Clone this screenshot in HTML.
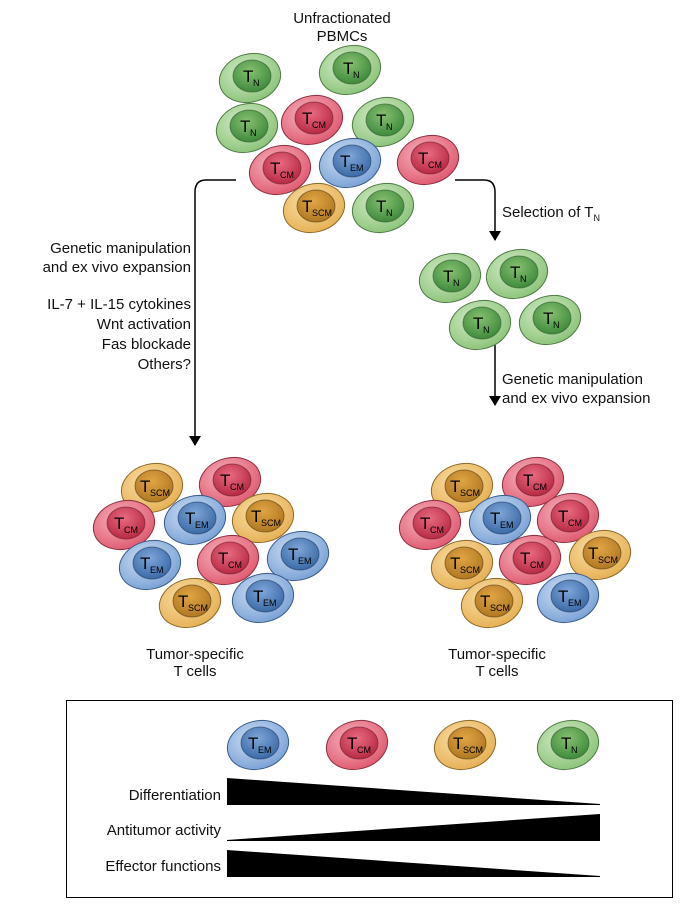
<!DOCTYPE html>
<html><head><meta charset="utf-8"><style>
html,body{margin:0;padding:0;background:#fff;}
svg{display:block;font-family:"Liberation Sans",Arial,sans-serif;}
</style></head><body>
<svg width="694" height="904" viewBox="0 0 694 904" xmlns="http://www.w3.org/2000/svg">
<defs>
<radialGradient id="oN" cx="45%" cy="35%" r="65%"><stop offset="0" stop-color="#d4ecc8"/><stop offset="1" stop-color="#8cc47a"/></radialGradient>
<radialGradient id="iN" cx="45%" cy="35%" r="65%"><stop offset="0" stop-color="#86c070"/><stop offset="1" stop-color="#3f8a3c"/></radialGradient>
<radialGradient id="oC" cx="45%" cy="35%" r="65%"><stop offset="0" stop-color="#f6b6c0"/><stop offset="1" stop-color="#e05a70"/></radialGradient>
<radialGradient id="iC" cx="45%" cy="35%" r="65%"><stop offset="0" stop-color="#e86a80"/><stop offset="1" stop-color="#b82a44"/></radialGradient>
<radialGradient id="oE" cx="45%" cy="35%" r="65%"><stop offset="0" stop-color="#cfe0f4"/><stop offset="1" stop-color="#7aa2d6"/></radialGradient>
<radialGradient id="iE" cx="45%" cy="35%" r="65%"><stop offset="0" stop-color="#7ea6d8"/><stop offset="1" stop-color="#3a6aa6"/></radialGradient>
<radialGradient id="oS" cx="45%" cy="35%" r="65%"><stop offset="0" stop-color="#fae0a8"/><stop offset="1" stop-color="#e6b054"/></radialGradient>
<radialGradient id="iS" cx="45%" cy="35%" r="65%"><stop offset="0" stop-color="#e0a444"/><stop offset="1" stop-color="#b07820"/></radialGradient>
<marker id="ar" markerWidth="10" markerHeight="12" refX="9" refY="6" orient="auto" markerUnits="userSpaceOnUse"><path d="M0,0 L10,6 L0,12 z" fill="#000"/></marker>
</defs>

<g font-size="15" fill="#111">
<text x="342" y="23" text-anchor="middle">Unfractionated</text>
<text x="342" y="41" text-anchor="middle">PBMCs</text>
<g text-anchor="end">
<text x="191" y="253">Genetic manipulation</text>
<text x="191" y="272">and ex vivo expansion</text>
<text x="191" y="309">IL-7 + IL-15 cytokines</text>
<text x="191" y="329">Wnt activation</text>
<text x="191" y="349">Fas blockade</text>
<text x="191" y="369">Others?</text>
</g>
<text x="502" y="217">Selection of T<tspan font-size="9" dy="4">N</tspan></text>
<text x="502" y="384">Genetic manipulation</text>
<text x="502" y="403">and ex vivo expansion</text>
<text x="195" y="659" text-anchor="middle">Tumor-specific</text>
<text x="195" y="676" text-anchor="middle">T cells</text>
<text x="497" y="659" text-anchor="middle">Tumor-specific</text>
<text x="497" y="676" text-anchor="middle">T cells</text>
</g>

<g fill="none" stroke="#000" stroke-width="1.5">
<path d="M236,180 H206 Q195,180 195,192 V445" marker-end="url(#ar)"/>
<path d="M455,180 H484 Q495,180 495,192 V240" marker-end="url(#ar)"/>
<path d="M495,345 V405" marker-end="url(#ar)"/>
</g>

<rect x="66.5" y="700.5" width="606" height="197" fill="none" stroke="#000" stroke-width="1"/>
<g font-size="15" fill="#111" text-anchor="end">
<text x="221" y="800">Differentiation</text>
<text x="221" y="835">Antitumor activity</text>
<text x="221" y="871">Effector functions</text>
</g>
<polygon points="227,778 600,804 600,805 227,805" fill="#000"/>
<polygon points="227,840 600,814 600,841 227,841" fill="#000"/>
<polygon points="227,850 600,876 600,877 227,877" fill="#000"/>

<g id="cells" stroke-width="1">
<!-- template function inlined -->
</g>
<g>
<!-- top group -->
<g transform="translate(250,78)"><ellipse rx="31" ry="24" transform="rotate(-15)" fill="url(#oN)" stroke="#4e7a44"/><ellipse cx="2" cy="-2" rx="19" ry="16" fill="url(#iN)" stroke="#2f5a2c" stroke-opacity=".6"/><text x="-7" y="4" font-size="17">T</text><text x="3" y="8" font-size="9">N</text></g>
<g transform="translate(350,70)"><ellipse rx="31" ry="24" transform="rotate(-15)" fill="url(#oN)" stroke="#4e7a44"/><ellipse cx="2" cy="-2" rx="19" ry="16" fill="url(#iN)" stroke="#2f5a2c" stroke-opacity=".6"/><text x="-7" y="4" font-size="17">T</text><text x="3" y="8" font-size="9">N</text></g>
<g transform="translate(247,128)"><ellipse rx="31" ry="24" transform="rotate(-15)" fill="url(#oN)" stroke="#4e7a44"/><ellipse cx="2" cy="-2" rx="19" ry="16" fill="url(#iN)" stroke="#2f5a2c" stroke-opacity=".6"/><text x="-7" y="4" font-size="17">T</text><text x="3" y="8" font-size="9">N</text></g>
<g transform="translate(312,120)"><ellipse rx="31" ry="24" transform="rotate(-15)" fill="url(#oC)" stroke="#8a3040"/><ellipse cx="2" cy="-2" rx="19" ry="16" fill="url(#iC)" stroke="#6a1a2a" stroke-opacity=".6"/><text x="-10" y="4" font-size="17">T</text><text x="0" y="8" font-size="9">CM</text></g>
<g transform="translate(383,122)"><ellipse rx="31" ry="24" transform="rotate(-15)" fill="url(#oN)" stroke="#4e7a44"/><ellipse cx="2" cy="-2" rx="19" ry="16" fill="url(#iN)" stroke="#2f5a2c" stroke-opacity=".6"/><text x="-7" y="4" font-size="17">T</text><text x="3" y="8" font-size="9">N</text></g>
<g transform="translate(280,170)"><ellipse rx="31" ry="24" transform="rotate(-15)" fill="url(#oC)" stroke="#8a3040"/><ellipse cx="2" cy="-2" rx="19" ry="16" fill="url(#iC)" stroke="#6a1a2a" stroke-opacity=".6"/><text x="-10" y="4" font-size="17">T</text><text x="0" y="8" font-size="9">CM</text></g>
<g transform="translate(350,163)"><ellipse rx="31" ry="24" transform="rotate(-15)" fill="url(#oE)" stroke="#3a5a88"/><ellipse cx="2" cy="-2" rx="19" ry="16" fill="url(#iE)" stroke="#203a66" stroke-opacity=".6"/><text x="-10" y="4" font-size="17">T</text><text x="0" y="8" font-size="9">EM</text></g>
<g transform="translate(428,160)"><ellipse rx="31" ry="24" transform="rotate(-15)" fill="url(#oC)" stroke="#8a3040"/><ellipse cx="2" cy="-2" rx="19" ry="16" fill="url(#iC)" stroke="#6a1a2a" stroke-opacity=".6"/><text x="-10" y="4" font-size="17">T</text><text x="0" y="8" font-size="9">CM</text></g>
<g transform="translate(314,208)"><ellipse rx="31" ry="24" transform="rotate(-15)" fill="url(#oS)" stroke="#8a6a2a"/><ellipse cx="2" cy="-2" rx="19" ry="16" fill="url(#iS)" stroke="#5a3a10" stroke-opacity=".6"/><text x="-12" y="4" font-size="17">T</text><text x="-2" y="8" font-size="9">SCM</text></g>
<g transform="translate(383,208)"><ellipse rx="31" ry="24" transform="rotate(-15)" fill="url(#oN)" stroke="#4e7a44"/><ellipse cx="2" cy="-2" rx="19" ry="16" fill="url(#iN)" stroke="#2f5a2c" stroke-opacity=".6"/><text x="-7" y="4" font-size="17">T</text><text x="3" y="8" font-size="9">N</text></g>

<!-- selected TN -->
<g transform="translate(450,278)"><ellipse rx="31" ry="24" transform="rotate(-15)" fill="url(#oN)" stroke="#4e7a44"/><ellipse cx="2" cy="-2" rx="19" ry="16" fill="url(#iN)" stroke="#2f5a2c" stroke-opacity=".6"/><text x="-7" y="4" font-size="17">T</text><text x="3" y="8" font-size="9">N</text></g>
<g transform="translate(517,274)"><ellipse rx="31" ry="24" transform="rotate(-15)" fill="url(#oN)" stroke="#4e7a44"/><ellipse cx="2" cy="-2" rx="19" ry="16" fill="url(#iN)" stroke="#2f5a2c" stroke-opacity=".6"/><text x="-7" y="4" font-size="17">T</text><text x="3" y="8" font-size="9">N</text></g>
<g transform="translate(480,325)"><ellipse rx="31" ry="24" transform="rotate(-15)" fill="url(#oN)" stroke="#4e7a44"/><ellipse cx="2" cy="-2" rx="19" ry="16" fill="url(#iN)" stroke="#2f5a2c" stroke-opacity=".6"/><text x="-7" y="4" font-size="17">T</text><text x="3" y="8" font-size="9">N</text></g>
<g transform="translate(550,320)"><ellipse rx="31" ry="24" transform="rotate(-15)" fill="url(#oN)" stroke="#4e7a44"/><ellipse cx="2" cy="-2" rx="19" ry="16" fill="url(#iN)" stroke="#2f5a2c" stroke-opacity=".6"/><text x="-7" y="4" font-size="17">T</text><text x="3" y="8" font-size="9">N</text></g>

<!-- left bottom -->
<g transform="translate(152,488)"><ellipse rx="31" ry="24" transform="rotate(-15)" fill="url(#oS)" stroke="#8a6a2a"/><ellipse cx="2" cy="-2" rx="19" ry="16" fill="url(#iS)" stroke="#5a3a10" stroke-opacity=".6"/><text x="-12" y="4" font-size="17">T</text><text x="-2" y="8" font-size="9">SCM</text></g>
<g transform="translate(230,482)"><ellipse rx="31" ry="24" transform="rotate(-15)" fill="url(#oC)" stroke="#8a3040"/><ellipse cx="2" cy="-2" rx="19" ry="16" fill="url(#iC)" stroke="#6a1a2a" stroke-opacity=".6"/><text x="-10" y="4" font-size="17">T</text><text x="0" y="8" font-size="9">CM</text></g>
<g transform="translate(124,525)"><ellipse rx="31" ry="24" transform="rotate(-15)" fill="url(#oC)" stroke="#8a3040"/><ellipse cx="2" cy="-2" rx="19" ry="16" fill="url(#iC)" stroke="#6a1a2a" stroke-opacity=".6"/><text x="-10" y="4" font-size="17">T</text><text x="0" y="8" font-size="9">CM</text></g>
<g transform="translate(195,520)"><ellipse rx="31" ry="24" transform="rotate(-15)" fill="url(#oE)" stroke="#3a5a88"/><ellipse cx="2" cy="-2" rx="19" ry="16" fill="url(#iE)" stroke="#203a66" stroke-opacity=".6"/><text x="-10" y="4" font-size="17">T</text><text x="0" y="8" font-size="9">EM</text></g>
<g transform="translate(263,518)"><ellipse rx="31" ry="24" transform="rotate(-15)" fill="url(#oS)" stroke="#8a6a2a"/><ellipse cx="2" cy="-2" rx="19" ry="16" fill="url(#iS)" stroke="#5a3a10" stroke-opacity=".6"/><text x="-12" y="4" font-size="17">T</text><text x="-2" y="8" font-size="9">SCM</text></g>
<g transform="translate(150,565)"><ellipse rx="31" ry="24" transform="rotate(-15)" fill="url(#oE)" stroke="#3a5a88"/><ellipse cx="2" cy="-2" rx="19" ry="16" fill="url(#iE)" stroke="#203a66" stroke-opacity=".6"/><text x="-10" y="4" font-size="17">T</text><text x="0" y="8" font-size="9">EM</text></g>
<g transform="translate(228,560)"><ellipse rx="31" ry="24" transform="rotate(-15)" fill="url(#oC)" stroke="#8a3040"/><ellipse cx="2" cy="-2" rx="19" ry="16" fill="url(#iC)" stroke="#6a1a2a" stroke-opacity=".6"/><text x="-10" y="4" font-size="17">T</text><text x="0" y="8" font-size="9">CM</text></g>
<g transform="translate(298,556)"><ellipse rx="31" ry="24" transform="rotate(-15)" fill="url(#oE)" stroke="#3a5a88"/><ellipse cx="2" cy="-2" rx="19" ry="16" fill="url(#iE)" stroke="#203a66" stroke-opacity=".6"/><text x="-10" y="4" font-size="17">T</text><text x="0" y="8" font-size="9">EM</text></g>
<g transform="translate(190,603)"><ellipse rx="31" ry="24" transform="rotate(-15)" fill="url(#oS)" stroke="#8a6a2a"/><ellipse cx="2" cy="-2" rx="19" ry="16" fill="url(#iS)" stroke="#5a3a10" stroke-opacity=".6"/><text x="-12" y="4" font-size="17">T</text><text x="-2" y="8" font-size="9">SCM</text></g>
<g transform="translate(263,598)"><ellipse rx="31" ry="24" transform="rotate(-15)" fill="url(#oE)" stroke="#3a5a88"/><ellipse cx="2" cy="-2" rx="19" ry="16" fill="url(#iE)" stroke="#203a66" stroke-opacity=".6"/><text x="-10" y="4" font-size="17">T</text><text x="0" y="8" font-size="9">EM</text></g>

<!-- right bottom -->
<g transform="translate(462,488)"><ellipse rx="31" ry="24" transform="rotate(-15)" fill="url(#oS)" stroke="#8a6a2a"/><ellipse cx="2" cy="-2" rx="19" ry="16" fill="url(#iS)" stroke="#5a3a10" stroke-opacity=".6"/><text x="-12" y="4" font-size="17">T</text><text x="-2" y="8" font-size="9">SCM</text></g>
<g transform="translate(533,482)"><ellipse rx="31" ry="24" transform="rotate(-15)" fill="url(#oC)" stroke="#8a3040"/><ellipse cx="2" cy="-2" rx="19" ry="16" fill="url(#iC)" stroke="#6a1a2a" stroke-opacity=".6"/><text x="-10" y="4" font-size="17">T</text><text x="0" y="8" font-size="9">CM</text></g>
<g transform="translate(430,525)"><ellipse rx="31" ry="24" transform="rotate(-15)" fill="url(#oC)" stroke="#8a3040"/><ellipse cx="2" cy="-2" rx="19" ry="16" fill="url(#iC)" stroke="#6a1a2a" stroke-opacity=".6"/><text x="-10" y="4" font-size="17">T</text><text x="0" y="8" font-size="9">CM</text></g>
<g transform="translate(500,520)"><ellipse rx="31" ry="24" transform="rotate(-15)" fill="url(#oE)" stroke="#3a5a88"/><ellipse cx="2" cy="-2" rx="19" ry="16" fill="url(#iE)" stroke="#203a66" stroke-opacity=".6"/><text x="-10" y="4" font-size="17">T</text><text x="0" y="8" font-size="9">EM</text></g>
<g transform="translate(568,518)"><ellipse rx="31" ry="24" transform="rotate(-15)" fill="url(#oC)" stroke="#8a3040"/><ellipse cx="2" cy="-2" rx="19" ry="16" fill="url(#iC)" stroke="#6a1a2a" stroke-opacity=".6"/><text x="-10" y="4" font-size="17">T</text><text x="0" y="8" font-size="9">CM</text></g>
<g transform="translate(462,565)"><ellipse rx="31" ry="24" transform="rotate(-15)" fill="url(#oS)" stroke="#8a6a2a"/><ellipse cx="2" cy="-2" rx="19" ry="16" fill="url(#iS)" stroke="#5a3a10" stroke-opacity=".6"/><text x="-12" y="4" font-size="17">T</text><text x="-2" y="8" font-size="9">SCM</text></g>
<g transform="translate(530,560)"><ellipse rx="31" ry="24" transform="rotate(-15)" fill="url(#oC)" stroke="#8a3040"/><ellipse cx="2" cy="-2" rx="19" ry="16" fill="url(#iC)" stroke="#6a1a2a" stroke-opacity=".6"/><text x="-10" y="4" font-size="17">T</text><text x="0" y="8" font-size="9">CM</text></g>
<g transform="translate(600,555)"><ellipse rx="31" ry="24" transform="rotate(-15)" fill="url(#oS)" stroke="#8a6a2a"/><ellipse cx="2" cy="-2" rx="19" ry="16" fill="url(#iS)" stroke="#5a3a10" stroke-opacity=".6"/><text x="-12" y="4" font-size="17">T</text><text x="-2" y="8" font-size="9">SCM</text></g>
<g transform="translate(492,603)"><ellipse rx="31" ry="24" transform="rotate(-15)" fill="url(#oS)" stroke="#8a6a2a"/><ellipse cx="2" cy="-2" rx="19" ry="16" fill="url(#iS)" stroke="#5a3a10" stroke-opacity=".6"/><text x="-12" y="4" font-size="17">T</text><text x="-2" y="8" font-size="9">SCM</text></g>
<g transform="translate(568,598)"><ellipse rx="31" ry="24" transform="rotate(-15)" fill="url(#oE)" stroke="#3a5a88"/><ellipse cx="2" cy="-2" rx="19" ry="16" fill="url(#iE)" stroke="#203a66" stroke-opacity=".6"/><text x="-10" y="4" font-size="17">T</text><text x="0" y="8" font-size="9">EM</text></g>

<!-- legend -->
<g transform="translate(258,745)"><ellipse rx="31" ry="24" transform="rotate(-15)" fill="url(#oE)" stroke="#3a5a88"/><ellipse cx="2" cy="-2" rx="19" ry="16" fill="url(#iE)" stroke="#203a66" stroke-opacity=".6"/><text x="-10" y="4" font-size="17">T</text><text x="0" y="8" font-size="9">EM</text></g>
<g transform="translate(357,745)"><ellipse rx="31" ry="24" transform="rotate(-15)" fill="url(#oC)" stroke="#8a3040"/><ellipse cx="2" cy="-2" rx="19" ry="16" fill="url(#iC)" stroke="#6a1a2a" stroke-opacity=".6"/><text x="-10" y="4" font-size="17">T</text><text x="0" y="8" font-size="9">CM</text></g>
<g transform="translate(465,745)"><ellipse rx="31" ry="24" transform="rotate(-15)" fill="url(#oS)" stroke="#8a6a2a"/><ellipse cx="2" cy="-2" rx="19" ry="16" fill="url(#iS)" stroke="#5a3a10" stroke-opacity=".6"/><text x="-12" y="4" font-size="17">T</text><text x="-2" y="8" font-size="9">SCM</text></g>
<g transform="translate(568,745)"><ellipse rx="31" ry="24" transform="rotate(-15)" fill="url(#oN)" stroke="#4e7a44"/><ellipse cx="2" cy="-2" rx="19" ry="16" fill="url(#iN)" stroke="#2f5a2c" stroke-opacity=".6"/><text x="-7" y="4" font-size="17">T</text><text x="3" y="8" font-size="9">N</text></g>
</g>
</svg>
</body></html>
